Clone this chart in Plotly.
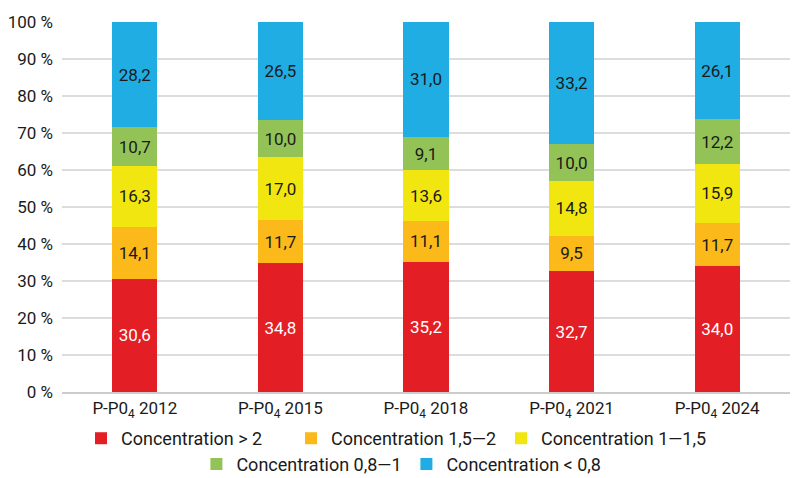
import plotly.graph_objects as go

# Data ########################################################################
years = ['2012', '2015', '2018', '2021', '2024']
categories = [f'P-P0<sub>4</sub> {y}' for y in years]

conc_gt_2 = [30.6, 34.8, 35.2, 32.7, 34.0]
conc_15_2 = [14.1, 11.7, 11.1, 9.5, 11.7]
conc_1_15 = [16.3, 17.0, 13.6, 14.8, 15.9]
conc_08_1 = [10.7, 10.0, 9.1, 10.0, 12.2]
conc_lt_08 = [28.2, 26.5, 31.0, 33.2, 26.1]

y_ticks = [0, 10, 20, 30, 40, 50, 60, 70, 80, 90, 100]
y_ticktext = [f'{t} %' for t in y_ticks]

series = [
    ('Concentration > 2', conc_gt_2, '#e31e24', 'white', 'legend'),
    ('Concentration 1,5\u20142', conc_15_2, '#fbb91a', '#1a1a1a', 'legend'),
    ('Concentration 1\u20141,5', conc_1_15, '#f2e611', '#1a1a1a', 'legend'),
    ('Concentration 0,8\u20141', conc_08_1, '#93c356', '#1a1a1a', 'legend2'),
    ('Concentration < 0,8', conc_lt_08, '#1fade4', '#1a1a1a', 'legend2'),
]

FONT = 'Roboto, sans-serif'

# Plot ########################################################################
fig = go.Figure()

for name, vals, color, txtcolor, leg in series:
    fig.add_trace(go.Bar(x=categories, y=vals, name=name,
                         marker=dict(color=color, line=dict(width=0)),
                         text=[f'{v:.1f}'.replace('.', ',') for v in vals],
                         textposition='inside',
                         insidetextanchor='middle',
                         textangle=0,
                         textfont=dict(color=txtcolor, size=17, family=FONT),
                         legend=leg))

legend_style = dict(orientation='h', xanchor='center', yanchor='top',
                    xref='container', yref='container',
                    font=dict(size=18, family=FONT, color='#1a1a1a'),
                    entrywidth=165, entrywidthmode='pixels',
                    bgcolor='rgba(0,0,0,0)', traceorder='normal')

# page body adds an 8px offset, so margins are trimmed to compensate
fig.update_layout(
    barmode='stack',
    bargap=0.69,
    width=800, height=478,
    margin=dict(l=54, r=18, t=14, b=94, autoexpand=False),
    plot_bgcolor='white',
    paper_bgcolor='white',
    font=dict(family=FONT, size=17, color='#1a1a1a'),
    legend=dict(x=0.485, y=0.138, **legend_style),
    legend2=dict(x=0.498, y=0.084, **legend_style),
    uniformtext=dict(minsize=10, mode='show'),
)

fig.update_yaxes(range=[0, 100], tickvals=y_ticks, ticktext=y_ticktext,
                 showgrid=True, gridcolor='#dcdcdc', gridwidth=1.5,
                 zeroline=False, ticks='', ticklabelstandoff=8,
                 automargin=False, tickfont=dict(size=17, family=FONT))
fig.update_xaxes(showline=True, linecolor='#cccccc', linewidth=1.5,
                 automargin=False, tickfont=dict(size=17, family=FONT), ticks='')

fig.write_html('out.html')
